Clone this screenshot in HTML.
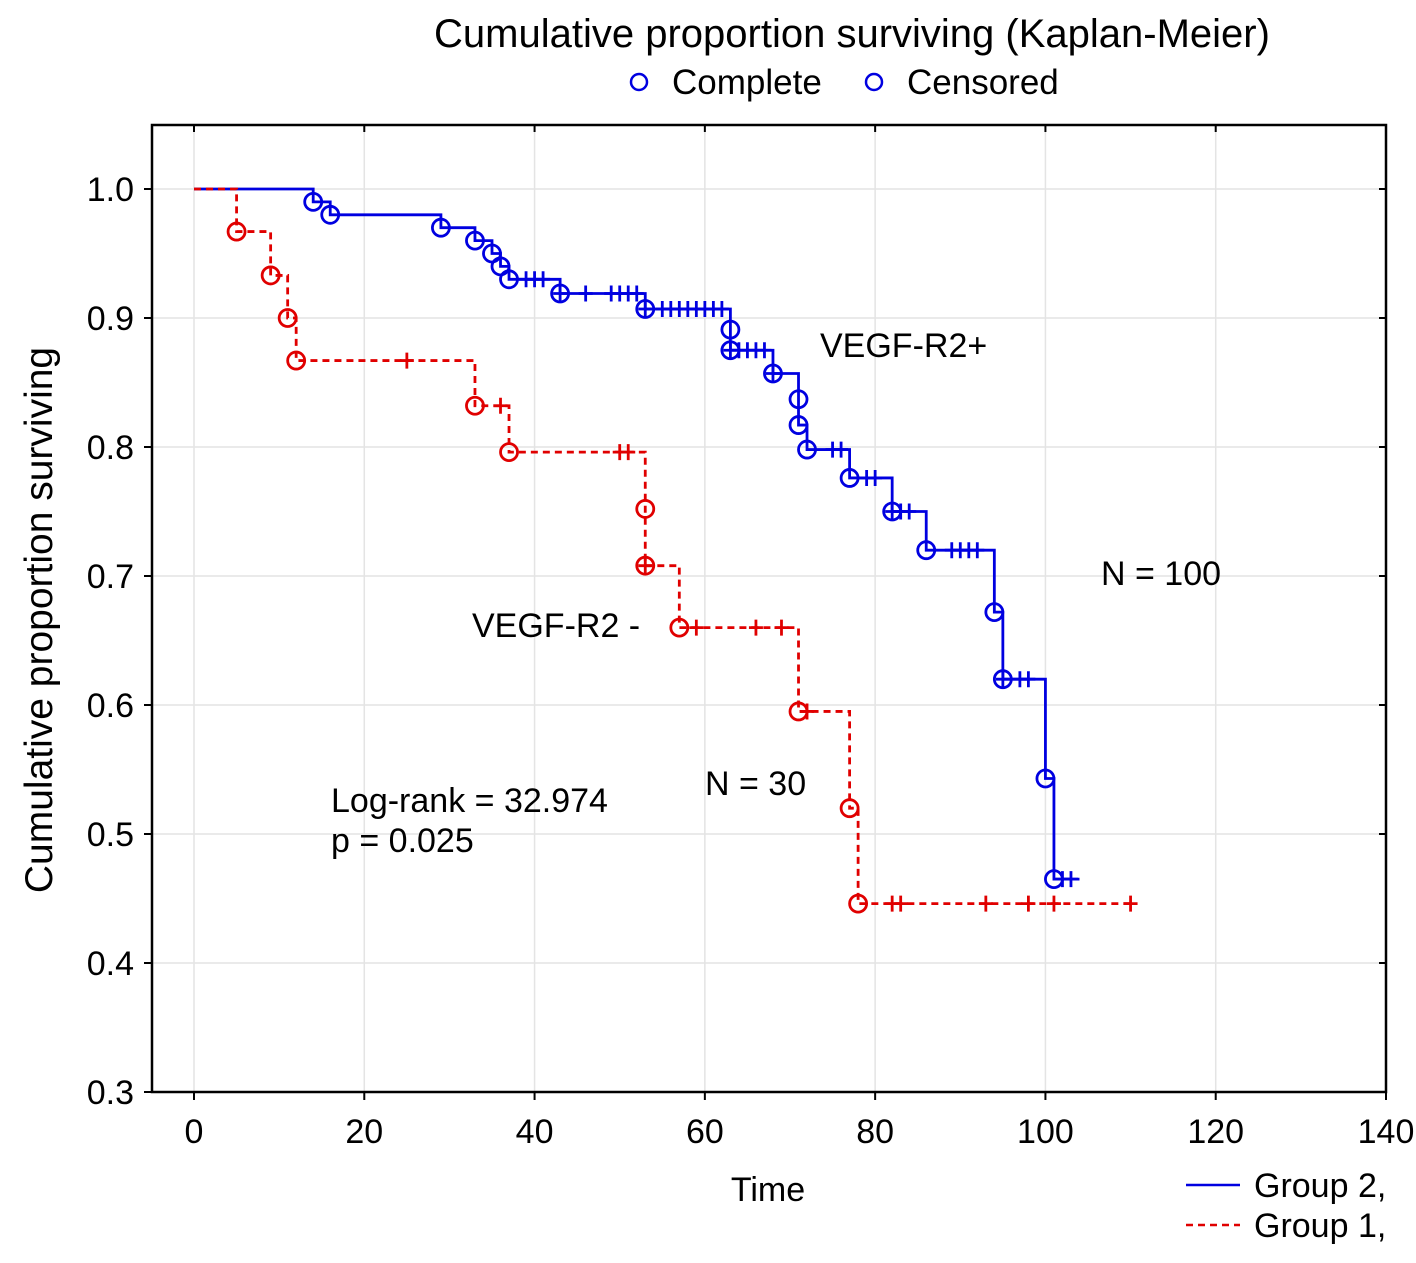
<!DOCTYPE html>
<html><head><meta charset="utf-8"><style>
body{margin:0;background:#fff}
svg{display:block;font-family:"Liberation Sans",Arial,sans-serif}
</style></head><body>
<svg id="chart" width="1416" height="1263" viewBox="0 0 1416 1263">
<text x="852" y="47" font-size="40" text-anchor="middle">Cumulative proportion surviving (Kaplan-Meier)</text>
<g>
<circle cx="639" cy="82" r="8" fill="none" stroke="#0000e0" stroke-width="2.5"/>
<text x="672" y="94" font-size="35">Complete</text>
<circle cx="874" cy="82" r="8" fill="none" stroke="#0000e0" stroke-width="2.5"/>
<text x="907" y="94" font-size="35">Censored</text>
</g>
<g id="grid"></g>
<rect x="152" y="125" width="1234" height="967" fill="none" stroke="#000" stroke-width="2.5"/>
<g id="axes"></g>
<g id="series"></g>
<text x="768" y="1201" font-size="34" text-anchor="middle">Time</text>
<text transform="translate(52,620) rotate(-90)" font-size="39" text-anchor="middle">Cumulative proportion surviving</text>
<text x="820" y="357" font-size="34">VEGF-R2+</text>
<text x="472" y="637" font-size="34">VEGF-R2 -</text>
<text x="1101" y="585" font-size="34">N = 100</text>
<text x="705" y="795" font-size="34">N = 30</text>
<text x="331" y="812" font-size="34">Log-rank = 32.974</text>
<text x="331" y="852" font-size="34">p = 0.025</text>
<g>
<line x1="1186" y1="1185" x2="1240" y2="1185" stroke="#0000e0" stroke-width="2.5"/>
<text x="1254" y="1197" font-size="34">Group 2,</text>
<line x1="1186" y1="1225" x2="1240" y2="1225" stroke="#e00000" stroke-width="2.5" stroke-dasharray="7,5"/>
<text x="1254" y="1237" font-size="34">Group 1,</text>
</g>
</svg>
<script>
const xTicks=[0,20,40,60,80,100,120,140];
const yTicks=[0.3,0.4,0.5,0.6,0.7,0.8,0.9,1.0];
const g2Times=[14,16,29,33,35,36,37,43,53,63,63,68,71,71,72,77,82,86,94,95,100,101];
const g2Surv=[0.99,0.98,0.97,0.96,0.95,0.94,0.93,0.919,0.907,0.891,0.875,0.857,0.837,0.817,0.798,0.776,0.75,0.72,0.672,0.62,0.543,0.465];
const g2Censor=[39,40,41,43,46,49,50,51,52,53,55,56,57,58,59,60,61,62,63,64,65,66,67,68,75,76,79,80,82,83,84,89,90,91,92,95,97,98,102,103];
const g2End=104;
const g1Times=[5,9,11,12,33,37,53,53,57,71,77,78];
const g1Surv=[0.967,0.933,0.9,0.867,0.832,0.796,0.752,0.708,0.66,0.595,0.52,0.446];
const g1Censor=[25,36,50,51,53,59,66,69,72,82,83,93,98,101,110];
const g1End=110;

const X=v=>194+v*(1386-194)/140;
const Y=v=>189+(1-v)*1290;
const NS='http://www.w3.org/2000/svg';
function mk(tag,attrs,parent){const e=document.createElementNS(NS,tag);for(const k in attrs)e.setAttribute(k,attrs[k]);parent.appendChild(e);return e;}
const grid=document.getElementById('grid'),axes=document.getElementById('axes'),series=document.getElementById('series');
xTicks.forEach(t=>{
  const l=mk('line',{x1:X(t),x2:X(t),y1:125,y2:1092,stroke:'#e4e4e4','stroke-width':1.5},grid);
  
  
  mk('line',{x1:X(t),x2:X(t),y1:1092,y2:1100,stroke:'#000','stroke-width':2},axes);
  mk('line',{x1:X(t),x2:X(t),y1:125,y2:132,stroke:'#000','stroke-width':2},axes);
  const tx=mk('text',{x:X(t),y:1143,'font-size':34,'text-anchor':'middle'},axes);
  tx.textContent=t;
  
  
});
yTicks.forEach(t=>{
  const l=mk('line',{x1:152,x2:1386,y1:Y(t),y2:Y(t),stroke:'#e4e4e4','stroke-width':1.5},grid);
  
  
  mk('line',{x1:144,x2:152,y1:Y(t),y2:Y(t),stroke:'#000','stroke-width':2},axes);
  mk('line',{x1:1379,x2:1386,y1:Y(t),y2:Y(t),stroke:'#000','stroke-width':2},axes);
  const tx=mk('text',{x:134,y:Y(t)+12,'font-size':34,'text-anchor':'end'},axes);
  tx.textContent=t.toFixed(1);
  
  
});
function survAt(times,surv,t){let s=1;for(let i=0;i<times.length;i++){if(times[i]<=t)s=surv[i];}return s;}
function draw(times,surv,cens,end,color,dash,name){
  let d='M'+X(0)+','+Y(1);let s=1;
  times.forEach((t,i)=>{d+=' L'+X(t)+','+Y(s)+' L'+X(t)+','+Y(surv[i]);s=surv[i];});
  d+=' L'+X(end)+','+Y(s);
  const p=mk('path',{d:d,fill:'none',stroke:color,'stroke-width':2.8,'stroke-dasharray':dash},series);
  
  
  times.forEach((t,i)=>{
    const c=mk('circle',{cx:X(t),cy:Y(surv[i]),r:8.5,fill:'none',stroke:color,'stroke-width':2.8},series);
    
    
  });
  cens.forEach(t=>{
    const v=survAt(times,surv,t);
    const l=mk('path',{d:'M'+X(t)+','+(Y(v)-8)+' V'+(Y(v)+8)+' M'+(X(t)-7)+','+Y(v)+' H'+(X(t)+7),stroke:color,'stroke-width':2.8,fill:'none'},series);
    
    
  });
}
draw(g2Times,g2Surv,g2Censor,g2End,'#0000e0','none','group2');
draw(g1Times,g1Surv,g1Censor,g1End,'#e00000','7,5','group1');
</script>
</body></html>
